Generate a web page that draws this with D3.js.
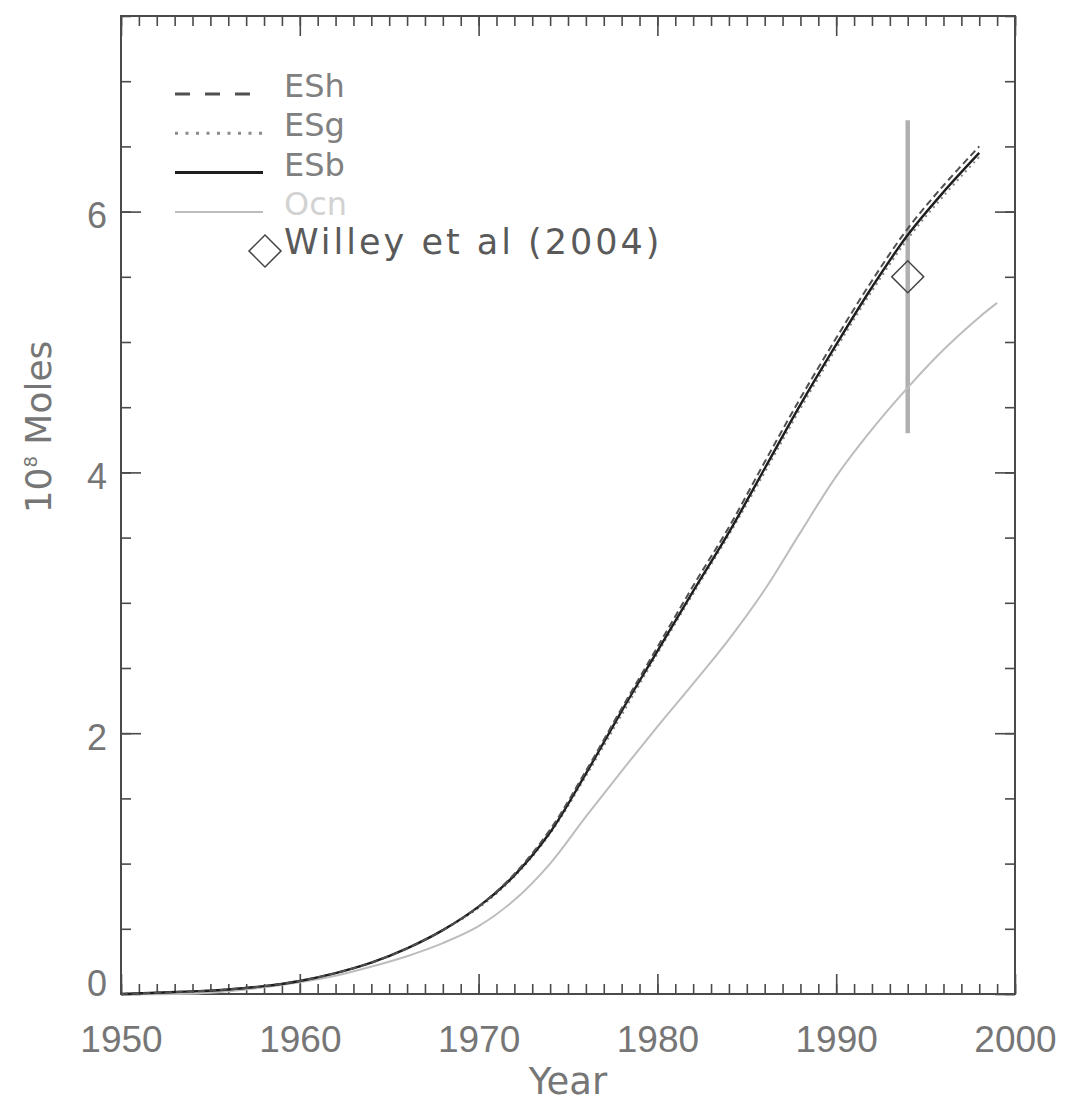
<!DOCTYPE html>
<html>
<head>
<meta charset="utf-8">
<script src="https://cdn.jsdelivr.net/npm/d3@7"></script>
<style>
  body { margin: 0; background: #fff; }
  svg { display: block; }
</style>
</head>
<body>
<div id="vizcont"></div>
<script>

// model years (every 2 yrs) and values in 10^8 moles
var years = [1950, 1952, 1954, 1956, 1958, 1960, 1962, 1964, 1966, 1968, 1970, 1972, 1974,
             1976, 1978, 1980, 1982, 1984, 1986, 1988, 1990, 1992, 1994, 1996, 1998];
var eshValues = [0, 0.01, 0.02, 0.035, 0.06, 0.1, 0.16, 0.24, 0.35, 0.49, 0.67, 0.92, 1.26,
                 1.71, 2.19, 2.66, 3.13, 3.58, 4.08, 4.57, 5.03, 5.47, 5.87, 6.2, 6.5];
var esgValues = [0, 0.01, 0.02, 0.035, 0.06, 0.1, 0.16, 0.24, 0.35, 0.49, 0.66, 0.9, 1.23,
                 1.67, 2.14, 2.61, 3.07, 3.52, 4.0, 4.49, 4.95, 5.39, 5.79, 6.12, 6.42];
var esbValues = [0, 0.01, 0.02, 0.035, 0.06, 0.1, 0.16, 0.24, 0.35, 0.49, 0.67, 0.91, 1.24,
                 1.69, 2.17, 2.63, 3.09, 3.54, 4.03, 4.52, 4.98, 5.42, 5.82, 6.15, 6.45];

// ocean curve runs one year longer
var ocnYears = [1950, 1955, 1960, 1962, 1964, 1966, 1968, 1970, 1972, 1974, 1976, 1978, 1980,
                1982, 1984, 1986, 1988, 1990, 1992, 1994, 1996, 1998, 1999];
var ocnValues = [0, 0.01, 0.09, 0.14, 0.21, 0.29, 0.39, 0.52, 0.72, 1.0, 1.36, 1.71, 2.05,
                 2.38, 2.72, 3.1, 3.54, 3.97, 4.33, 4.65, 4.94, 5.19, 5.3];

// observation with error bar
var willeyYear = [1994];
var willeyValue = [5.5];
var willeyLow = [4.3];
var willeyHigh = [6.7];

var seriesNames = ["ESh", "ESg", "ESb", "Ocn"];
var obsName = "Willey et al (2004)";

var xMajorTicks = [1950, 1960, 1970, 1980, 1990, 2000];
var yMajorTicks = [0, 2, 4, 6];

function draw_chart() {

    var W = 1067, H = 1108;
    var left = 121, right = 1015, top = 16, bottom = 994;

    var svg = d3.select("#vizcont")
        .append("svg")
        .attr("width", W)
        .attr("height", H)
        .style("font-family", "'DejaVu Sans', sans-serif");

    var x = d3.scaleLinear().domain([1950, 2000]).range([left, right]);
    var y = d3.scaleLinear().domain([0, 7.5]).range([bottom, top]);

    var axisColor = "#4a4a4a";
    var labelColor = "#767676";

    // minor ticks
    var xMinor = d3.range(1950, 2001, 1);
    var yMinor = d3.range(0, 7.51, 0.5);

    function styleAxis(g) {
        g.select(".domain").remove();
        g.selectAll(".tick line").attr("stroke", axisColor).attr("stroke-width", 1.6);
    }

    svg.append("g")
        .attr("transform", "translate(0," + bottom + ")")
        .call(d3.axisBottom(x).tickValues(xMinor).tickSize(-10).tickSizeOuter(0).tickFormat(""))
        .call(styleAxis);
    svg.append("g")
        .attr("transform", "translate(0," + top + ")")
        .call(d3.axisTop(x).tickValues(xMinor).tickSize(-10).tickSizeOuter(0).tickFormat(""))
        .call(styleAxis);
    svg.append("g")
        .attr("transform", "translate(" + left + ",0)")
        .call(d3.axisLeft(y).tickValues(yMinor).tickSize(-10).tickSizeOuter(0).tickFormat(""))
        .call(styleAxis);
    svg.append("g")
        .attr("transform", "translate(" + right + ",0)")
        .call(d3.axisRight(y).tickValues(yMinor).tickSize(-10).tickSizeOuter(0).tickFormat(""))
        .call(styleAxis);

    // major ticks + labels
    var xAxis = svg.append("g")
        .attr("class", "x axis")
        .attr("transform", "translate(0," + bottom + ")")
        .call(d3.axisBottom(x).tickValues(xMajorTicks).tickSize(-20).tickSizeOuter(0)
              .tickPadding(32).tickFormat(d3.format("d")))
        .call(styleAxis);
    xAxis.selectAll("text")
        .attr("fill", labelColor)
        .style("font-size", "37px");

    svg.append("g")
        .attr("transform", "translate(0," + top + ")")
        .call(d3.axisTop(x).tickValues(xMajorTicks).tickSize(-20).tickSizeOuter(0).tickFormat(""))
        .call(styleAxis);

    var yAxis = svg.append("g")
        .attr("class", "y axis")
        .attr("transform", "translate(" + left + ",0)")
        .call(d3.axisLeft(y).tickValues(yMajorTicks).tickSize(-20).tickSizeOuter(0).tickPadding(14))
        .call(styleAxis);
    yAxis.selectAll("text")
        .attr("fill", labelColor)
        .attr("dy", "0.45em")
        .style("font-size", "36px");
    // zero label sits a bit higher
    yAxis.selectAll(".tick")
        .filter(function(d) { return d === 0; })
        .select("text")
        .attr("dy", "0.05em");

    svg.append("g")
        .attr("transform", "translate(" + right + ",0)")
        .call(d3.axisRight(y).tickValues(yMajorTicks).tickSize(-20).tickSizeOuter(0).tickFormat(""))
        .call(styleAxis);

    // frame
    svg.append("rect")
        .attr("x", left)
        .attr("y", top)
        .attr("width", right - left)
        .attr("height", bottom - top)
        .attr("fill", "none")
        .attr("stroke", axisColor)
        .attr("stroke-width", 2);

    // axis titles
    svg.append("text")
        .attr("x", (left + right) / 2)
        .attr("y", 1094)
        .attr("text-anchor", "middle")
        .attr("fill", labelColor)
        .style("font-size", "37px")
        .text("Year");

    var ylab = svg.append("text")
        .attr("transform", "translate(51,427) rotate(-90)")
        .attr("text-anchor", "middle")
        .attr("fill", labelColor)
        .style("font-size", "36px");
    ylab.append("tspan").text("10");
    ylab.append("tspan").attr("dy", -14).style("font-size", "18px").text("8");
    ylab.append("tspan").attr("dy", 14).text(" Moles");

    // series styles
    var styles = {
        ESh: {color: "#505050", width: 2, dash: "7,4", text: "#808080"},
        ESg: {color: "#8a8a8a", width: 2, dash: "2,4", text: "#808080"},
        ESb: {color: "#1e1e1e", width: 2.4, dash: null, text: "#808080"},
        Ocn: {color: "#bdbdbd", width: 2, dash: null, text: "#d2d2d2"}
    };

    var line = d3.line()
        .x(function(d) { return x(d[0]); })
        .y(function(d) { return y(d[1]); })
        .curve(d3.curveCatmullRom.alpha(0.5));

    var seriesData = {
        ESh: d3.zip(years, eshValues),
        ESg: d3.zip(years, esgValues),
        ESb: d3.zip(years, esbValues),
        Ocn: d3.zip(ocnYears, ocnValues)
    };

    // error bar first so curves sit on top
    var obs = d3.zip(willeyYear, willeyValue, willeyLow, willeyHigh);
    svg.selectAll(".errbar")
        .data(obs)
        .enter()
        .append("line")
        .attr("class", "errbar")
        .attr("x1", function(d) { return x(d[0]); })
        .attr("x2", function(d) { return x(d[0]); })
        .attr("y1", function(d) { return y(d[3]); })
        .attr("y2", function(d) { return y(d[2]); })
        .attr("stroke", "#b0b0b0")
        .attr("stroke-width", 4.5);

    ["Ocn", "ESg", "ESb", "ESh"].forEach(function(k) {
        svg.append("path")
            .datum(seriesData[k])
            .attr("d", line)
            .attr("fill", "none")
            .attr("stroke", styles[k].color)
            .attr("stroke-width", styles[k].width)
            .attr("stroke-dasharray", styles[k].dash);
    });

    var diamond = d3.symbol().type(d3.symbolSquare).size(2 * 16 * 16);
    svg.selectAll(".obs")
        .data(obs)
        .enter()
        .append("path")
        .attr("class", "obs")
        .attr("d", diamond)
        .attr("transform", function(d) {
            return "translate(" + x(d[0]) + "," + y(d[1]) + ") rotate(45)";
        })
        .attr("fill", "none")
        .attr("stroke", "#444")
        .attr("stroke-width", 1.5);

    // legend
    var legend = svg.append("g")
        .selectAll("g")
        .data(seriesNames)
        .enter()
        .append("g")
        .attr("transform", function(d, i) {
            return "translate(0," + (94 + i * 39.3) + ")";
        });

    legend.append("line")
        .attr("x1", 175)
        .attr("x2", 263)
        .attr("stroke", function(d) { return styles[d].color; })
        .attr("stroke-width", function(d) { return d === "Ocn" ? 2 : 3; })
        .attr("stroke-dasharray", function(d) {
            if (d === "ESh") return "15,15";
            if (d === "ESg") return "3,7.5";
            return null;
        });

    legend.append("text")
        .attr("x", 284)
        .attr("y", 3)
        .attr("fill", function(d) { return styles[d].text; })
        .style("font-size", "32px")
        .text(function(d) { return d; });

    svg.append("path")
        .attr("d", diamond)
        .attr("transform", "translate(265,251) rotate(45)")
        .attr("fill", "none")
        .attr("stroke", "#444")
        .attr("stroke-width", 1.5);

    svg.append("text")
        .attr("x", 284)
        .attr("y", 254)
        .attr("fill", "#5a5a5a")
        .style("font-size", "35px")
        .style("letter-spacing", "3px")
        .text(obsName);
}

draw_chart();
</script>
</body>
</html>
